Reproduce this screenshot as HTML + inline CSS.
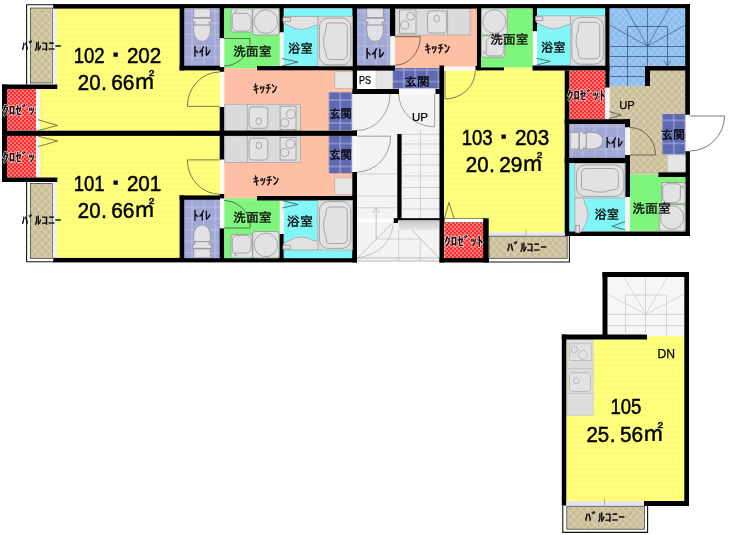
<!DOCTYPE html>
<html lang="ja"><head><meta charset="utf-8"><title>間取り図</title>
<style>
html,body{margin:0;padding:0;background:#fff;}
body{width:733px;height:535px;overflow:hidden;}
svg{display:block;will-change:transform;}
text{font-family:"Liberation Sans","IPAGothic","Noto Sans CJK JP",sans-serif;fill:#000;}
.j{font-family:"Liberation Sans","IPAGothic","Noto Sans CJK JP",sans-serif;}
.l{font-family:"Liberation Sans",sans-serif;}
</style></head><body>
<svg width="733" height="535" viewBox="0 0 733 535">
<defs>
<pattern id="pTan" width="7" height="7.6" patternUnits="userSpaceOnUse">
<rect width="7" height="7.6" fill="#c8bd97"/>
<path d="M0 0L7 7.6M7 0L0 7.6" stroke="#e0d8bc" stroke-width="0.9"/>
</pattern>
<pattern id="pBlue" width="7" height="7.6" patternUnits="userSpaceOnUse">
<rect width="7" height="7.6" fill="#8abcee"/>
<path d="M0 0L7 7.6M7 0L0 7.6" stroke="#aed0f5" stroke-width="0.9"/>
</pattern>
<pattern id="pRed" width="4" height="4" patternUnits="userSpaceOnUse">
<rect width="4" height="4" fill="#f82c2c"/>
<circle cx="1" cy="1" r="0.85" fill="#ffc8c8"/><circle cx="3" cy="3" r="0.85" fill="#ffc8c8"/>
</pattern>
<pattern id="pToi" width="11.5" height="11.5" x="186.4" y="40.2" patternUnits="userSpaceOnUse">
<rect width="11.5" height="11.5" fill="#a2a8d5"/>
<path d="M0 5.75H11.5M5.75 0V11.5" stroke="#bbc0e4" stroke-width="1"/>
</pattern>
<pattern id="pYel" width="8" height="5.5" patternUnits="userSpaceOnUse">
<rect width="8" height="5.5" fill="#ffff7c"/>
<rect y="2.2" width="8" height="1" fill="#f9f978"/>
</pattern>
<pattern id="pGen" width="11.5" height="11.5" patternUnits="userSpaceOnUse">
<rect width="11.5" height="11.5" fill="#5e69b0"/>
<path d="M0 5.75H11.5M5.75 0V11.5" stroke="#a9b0de" stroke-width="1"/>
</pattern>
<linearGradient id="gG" x1="0" y1="0" x2="0" y2="1"><stop offset="0" stop-color="#c4c4c4"/><stop offset="1" stop-color="#e6e6e6"/></linearGradient>
<clipPath id="cL"><rect x="0" y="84" width="36" height="98"/></clipPath>
<pattern id="pGenA" href="#pGen" x="334.5" y="94.3"/>
<pattern id="pGenB" href="#pGen" x="334.5" y="137.7"/>
<pattern id="pGenC" href="#pGen" x="398.1" y="64.3"/>
<pattern id="pGenD" href="#pGen" x="668" y="114.6"/>
</defs>
<rect width="733" height="535" fill="#fff"/>

<rect x="30.3" y="8" width="22.3" height="75" fill="url(#pTan)" stroke="#333" stroke-width="0.7"/>
<rect x="52.8" y="8" width="4" height="76.5" fill="#eeeef5" />
<path d="M54 4.8H26.6V84.5" stroke="#111" stroke-width="1.1" fill="none"/>
<rect x="56.5" y="8" width="123" height="122.5" fill="url(#pYel)" />
<rect x="39.5" y="89" width="17.5" height="41.5" fill="url(#pYel)" />
<rect x="179" y="70.1" width="41.5" height="60.7" fill="url(#pYel)" />
<rect x="7" y="89" width="29" height="41.5" fill="url(#pRed)" />
<rect x="36" y="89" width="3.6" height="41.5" fill="#f4f4fa" />
<rect x="2" y="84.5" width="55.3" height="4.5" fill="#000" />
<rect x="2" y="84.5" width="5" height="46.5" fill="#000" />
<rect x="53.2" y="4.1" width="303.8" height="4.5" fill="#000" />
<rect x="184.3" y="8.3" width="35.7" height="57.6" fill="url(#pToi)" />
<rect x="179.6" y="8" width="4.7" height="62.4" fill="#000" />
<rect x="179.6" y="65.7" width="40.4" height="4.7" fill="#000" />
<rect x="219.7" y="8" width="4.6" height="30.3" fill="#000" />
<rect x="220.2" y="38.3" width="4.1" height="28.8" fill="#fafafa" />
<rect x="220" y="70.4" width="4.5" height="36.6" fill="#fafafa" />
<rect x="219.7" y="67.1" width="4.8" height="4.7" fill="#000" />
<rect x="219.7" y="107" width="4.8" height="24" fill="#000" />
<rect x="224.3" y="8.3" width="55.5" height="57.9" fill="#80f57e" />
<rect x="224.3" y="66" width="32.9" height="2.3" fill="#80f57e" />
<rect x="279.5" y="8" width="4.3" height="24.5" fill="#000" />
<rect x="280" y="32.5" width="3.8" height="33.7" fill="#f2f2f2" />
<rect x="283.8" y="8.3" width="68.6" height="57.9" fill="#82f6f6" />
<rect x="257" y="66" width="100" height="4.6" fill="#000" />
<rect x="352.4" y="8" width="4.8" height="86" fill="#000" />
<rect x="224.3" y="70.6" width="128.1" height="59.9" fill="#fec0a5" />
<rect x="224.3" y="68.3" width="32.9" height="2.7" fill="#fec0a5" />
<rect x="334.8" y="71.8" width="17.6" height="16.8" fill="#e6e6e6" stroke="#b0a8a8" stroke-width="0.6"/>
<rect x="328.6" y="92.3" width="23.8" height="38.2" fill="url(#pGenA)" />
<rect x="352.4" y="94" width="4.6" height="36.5" fill="#f2f2f2" />
<rect x="224.8" y="104.2" width="75.7" height="26.5" fill="#dadada" stroke="#999" stroke-width="0.6"/>
<rect x="30.3" y="183.5" width="22.3" height="75" fill="url(#pTan)" stroke="#333" stroke-width="0.7"/>
<rect x="52.8" y="182" width="4" height="76.5" fill="#eeeef5" />
<path d="M54 261.7H26.6V182" stroke="#111" stroke-width="1.1" fill="none"/>
<rect x="56.5" y="136" width="123" height="122.5" fill="url(#pYel)" />
<rect x="39.5" y="136" width="17.5" height="41.5" fill="url(#pYel)" />
<rect x="179" y="135.7" width="41.5" height="60" fill="url(#pYel)" />
<rect x="7" y="136" width="29" height="41.5" fill="url(#pRed)" />
<rect x="36" y="136" width="3.6" height="41.5" fill="#f4f4fa" />
<rect x="2" y="177.5" width="55.3" height="4.5" fill="#000" />
<rect x="2" y="135.5" width="5" height="46.5" fill="#000" />
<rect x="53.2" y="257.9" width="303.8" height="4.5" fill="#000" />
<rect x="184.3" y="199.6" width="35.7" height="58.6" fill="url(#pToi)" />
<rect x="179.6" y="195.4" width="4.7" height="63.1" fill="#000" />
<rect x="179.6" y="195.4" width="40.4" height="4.4" fill="#000" />
<rect x="219.7" y="228.2" width="4.6" height="30.3" fill="#000" />
<rect x="220.2" y="198.4" width="4.1" height="29.8" fill="#fafafa" />
<rect x="220" y="159.5" width="4.5" height="35.9" fill="#fafafa" />
<rect x="219.7" y="194" width="4.8" height="4.4" fill="#000" />
<rect x="219.7" y="135.5" width="4.8" height="24" fill="#000" />
<rect x="224.3" y="200.3" width="55.5" height="57.9" fill="#80f57e" />
<rect x="224.3" y="198.2" width="32.9" height="2.3" fill="#80f57e" />
<rect x="279.5" y="234" width="4.3" height="24.5" fill="#000" />
<rect x="280" y="200.3" width="3.8" height="33.7" fill="#f2f2f2" />
<rect x="283.8" y="200.3" width="68.6" height="57.9" fill="#82f6f6" />
<rect x="257" y="195.9" width="100" height="4.6" fill="#000" />
<rect x="352.4" y="172.5" width="4.8" height="86" fill="#000" />
<rect x="224.3" y="136" width="128.1" height="59.9" fill="#fec0a5" />
<rect x="224.3" y="195.5" width="32.9" height="2.7" fill="#fec0a5" />
<rect x="334.8" y="177.9" width="17.6" height="16.8" fill="#e6e6e6" stroke="#b0a8a8" stroke-width="0.6"/>
<rect x="328.6" y="136" width="23.8" height="37.3" fill="url(#pGenB)" />
<rect x="352.4" y="136" width="4.6" height="36.5" fill="#f2f2f2" />
<rect x="224.8" y="135.8" width="75.7" height="26.5" fill="#dadada" stroke="#999" stroke-width="0.6"/>
<rect x="2" y="130.7" width="355" height="5.2" fill="#000" />
<rect x="357" y="94" width="83" height="168" fill="#f3f3f3" />
<rect x="357" y="70.3" width="19" height="18.9" fill="#fff" />
<rect x="376" y="70.3" width="16.8" height="18.9" fill="#e6e6e6" stroke="#bbb" stroke-width="0.5"/>
<rect x="392.8" y="68" width="47.2" height="20.6" fill="url(#pGenC)" />
<rect x="352.4" y="89" width="46.6" height="5" fill="#000" />
<rect x="435.3" y="89" width="8.7" height="5" fill="#000" />
<rect x="399" y="88.6" width="36.3" height="5.4" fill="#f8f8f8" />
<rect x="352.4" y="130.5" width="4.6" height="5.4" fill="#000" />
<rect x="352.4" y="172" width="4.6" height="90.5" fill="#000" />
<rect x="352.6" y="135.9" width="4.4" height="36.1" fill="#f6f6f6" />
<rect x="397.3" y="134" width="4.3" height="86.4" fill="#000" />
<rect x="393.5" y="218.2" width="4.5" height="4.8" fill="#000" />
<rect x="401" y="218.2" width="39" height="2.2" fill="#000" />
<rect x="357" y="219" width="36.5" height="3.2" fill="#fff" />
<rect x="399" y="220.4" width="39.6" height="9.4" fill="url(#gG)" />
<line x1="401.6" y1="134.3" x2="440" y2="134.3" stroke="#c2c2c2" stroke-width="0.7"/>
<line x1="401.6" y1="144" x2="440" y2="144" stroke="#c2c2c2" stroke-width="0.7"/>
<line x1="401.6" y1="154.5" x2="440" y2="154.5" stroke="#c2c2c2" stroke-width="0.7"/>
<line x1="401.6" y1="165" x2="440" y2="165" stroke="#c2c2c2" stroke-width="0.7"/>
<line x1="401.6" y1="176" x2="440" y2="176" stroke="#c2c2c2" stroke-width="0.7"/>
<line x1="401.6" y1="187.5" x2="440" y2="187.5" stroke="#c2c2c2" stroke-width="0.7"/>
<line x1="401.6" y1="198.5" x2="440" y2="198.5" stroke="#c2c2c2" stroke-width="0.7"/>
<line x1="401.6" y1="209" x2="440" y2="209" stroke="#c2c2c2" stroke-width="0.7"/>
<line x1="420.5" y1="130" x2="420.5" y2="218" stroke="#c2c2c2" stroke-width="0.7"/>
<line x1="357" y1="174" x2="397.3" y2="174" stroke="#c2c2c2" stroke-width="0.7"/>
<line x1="357" y1="196" x2="397.3" y2="196" stroke="#c2c2c2" stroke-width="0.7"/>
<line x1="357" y1="207.8" x2="397.3" y2="207.8" stroke="#c2c2c2" stroke-width="0.7"/>
<line x1="376.2" y1="207.8" x2="376.2" y2="239" stroke="#aaa" stroke-width="0.7"/>
<path d="M372.8 212.8L376.2 207.8L379.8 212.8" stroke="#aaa" stroke-width="0.7" fill="none"/>
<line x1="376.2" y1="239" x2="420" y2="239" stroke="#c2c2c2" stroke-width="0.7"/>
<line x1="392.5" y1="223" x2="357.5" y2="258" stroke="#aaa" stroke-width="0.7"/>
<path d="M393 225Q390 252 357.5 258" stroke="#aaa" stroke-width="0.7" fill="none"/>
<line x1="398.6" y1="230" x2="398.6" y2="261" stroke="#c2c2c2" stroke-width="0.7"/>
<line x1="412" y1="230" x2="439" y2="258" stroke="#aaa" stroke-width="0.7"/>
<line x1="420.3" y1="239" x2="420.3" y2="261" stroke="#c2c2c2" stroke-width="0.7"/>
<line x1="357" y1="258" x2="440" y2="258" stroke="#aaa" stroke-width="0.7"/>
<line x1="357" y1="261" x2="440" y2="261" stroke="#aaa" stroke-width="0.7"/>
<path d="M390 94A33 36.5 0 0 1 357 130.5" stroke="#666" stroke-width="0.6" fill="none"/>
<path d="M357 136.2H390.6A33.6 35.8 0 0 1 357 172" stroke="#666" stroke-width="0.6" fill="none"/>
<path d="M398.8 94A35.8 32.8 0 0 0 434.6 126.8V94" stroke="#666" stroke-width="0.6" fill="none"/>
<rect x="357" y="8.3" width="33.3" height="57.4" fill="url(#pToi)" />
<rect x="390" y="8" width="5" height="28.3" fill="#000" />
<rect x="390.6" y="36.3" width="4.4" height="29.4" fill="#f4f4f4" />
<rect x="395" y="8.3" width="81.9" height="59.7" fill="#fec0a5" />
<rect x="395.5" y="8.3" width="74.5" height="26.7" fill="#dadada" stroke="#999" stroke-width="0.6"/>
<rect x="352.4" y="65.5" width="42.6" height="5.1" fill="#000" />
<rect x="439.5" y="65.5" width="4.5" height="197" fill="#000" />
<rect x="476.9" y="8" width="4.3" height="62.6" fill="#000" />
<rect x="475.3" y="66" width="28.7" height="4.6" fill="#000" />
<rect x="444.5" y="66.5" width="30.8" height="4.3" fill="#f8f8f8" />
<rect x="357" y="4.1" width="332.9" height="4.5" fill="#000" />
<rect x="444" y="70.6" width="121" height="161.9" fill="url(#pYel)" />
<rect x="504" y="67.5" width="28.5" height="3.5" fill="url(#pYel)" />
<rect x="481" y="8.3" width="51.8" height="59.2" fill="#80f57e" />
<rect x="532.8" y="8" width="4.2" height="23.4" fill="#000" />
<rect x="533.2" y="31.4" width="3.8" height="34.3" fill="#fafafa" />
<rect x="537" y="8.3" width="68.3" height="57.4" fill="#82f6f6" />
<rect x="532.5" y="65.5" width="77.5" height="5.1" fill="#000" />
<rect x="605.2" y="8" width="4.5" height="79.7" fill="#000" />
<rect x="564.7" y="70.6" width="4.8" height="165.4" fill="#000" />
<rect x="569.5" y="70.6" width="35.7" height="48.4" fill="url(#pRed)" />
<rect x="605.2" y="87.7" width="4.5" height="30.3" fill="#f4f4fa" />
<rect x="609.7" y="8.3" width="75.8" height="57.9" fill="url(#pBlue)" />
<rect x="609.7" y="66" width="35.8" height="20" fill="url(#pBlue)" />
<rect x="650" y="70.6" width="35.5" height="19.4" fill="url(#pTan)" />
<rect x="609.7" y="86" width="75.8" height="38.3" fill="url(#pTan)" />
<rect x="630" y="124" width="55.5" height="50.5" fill="url(#pTan)" />
<rect x="645" y="66" width="44.5" height="4.6" fill="#000" />
<rect x="645" y="66" width="5" height="20" fill="#000" />
<rect x="564.7" y="119.2" width="65" height="5" fill="#000" />
<rect x="685.2" y="4.1" width="4.7" height="110.7" fill="#000" />
<rect x="685.2" y="151.2" width="4.7" height="84.3" fill="#000" />
<rect x="569.5" y="124.3" width="55.8" height="33.5" fill="url(#pToi)" />
<rect x="625" y="119" width="5" height="8.5" fill="#000" />
<rect x="625.5" y="127.5" width="4.5" height="27.5" fill="#f4f4f4" />
<rect x="625" y="155" width="5" height="42" fill="#000" />
<rect x="564.7" y="157.8" width="65.3" height="5.2" fill="#000" />
<rect x="662" y="114" width="23.4" height="40.3" fill="url(#pGenD)" />
<rect x="667.5" y="155" width="17.9" height="17" fill="#e4e4e4" stroke="#bbb" stroke-width="0.5"/>
<rect x="569.5" y="163" width="55.8" height="68.2" fill="#82f6f6" />
<rect x="625.5" y="197" width="4.5" height="34.2" fill="#f4f4f4" />
<rect x="630" y="174.5" width="55.4" height="56.7" fill="#80f57e" />
<rect x="564.7" y="231.5" width="125.2" height="4.5" fill="#000" />
<rect x="658.4" y="172.4" width="31.1" height="4.6" fill="#000" />
<rect x="444.3" y="218.5" width="40.2" height="4" fill="#fff" stroke="#333" stroke-width="0.6"/>
<rect x="444.3" y="222.5" width="40.2" height="35.7" fill="url(#pRed)" />
<rect x="483.2" y="218.3" width="5.5" height="44.2" fill="#000" />
<rect x="439.5" y="258" width="49.5" height="4.5" fill="#000" />
<rect x="489" y="232.5" width="76" height="3.5" fill="#e4e4ee" />
<rect x="489" y="236.2" width="78.2" height="22.1" fill="url(#pTan)" stroke="#333" stroke-width="0.7"/>
<path d="M489 262H569.4V235.7" stroke="#111" stroke-width="1.1" fill="none"/>
<line x1="526" y1="229.5" x2="526" y2="235.5" stroke="#888" stroke-width="0.6"/>
<rect x="607.5" y="277" width="77" height="59" fill="#f6f6f6" />
<rect x="566" y="339.5" width="118.5" height="161.7" fill="url(#pYel)" />
<rect x="647" y="336" width="37.5" height="4" fill="url(#pYel)" />
<rect x="566.8" y="339.5" width="26.5" height="76.1" fill="#dcdcdc" stroke="#c4c4c4" stroke-width="0.5"/>
<rect x="602.5" y="272" width="86.5" height="5" fill="#000" />
<rect x="602.5" y="272" width="5" height="63" fill="#000" />
<rect x="684.3" y="272" width="4.7" height="234" fill="#000" />
<rect x="561.8" y="334.5" width="85.2" height="5" fill="#000" />
<rect x="561.8" y="334.5" width="4.5" height="171" fill="#000" />
<rect x="644" y="501" width="45" height="5" fill="#000" />
<rect x="566.3" y="501.2" width="77.7" height="4.3" fill="#e4e4ee" />
<rect x="566.8" y="506.2" width="77.6" height="23" fill="url(#pTan)" stroke="#333" stroke-width="0.7"/>
<path d="M562.8 505.5V532.4H647.6V506" stroke="#111" stroke-width="1.1" fill="none"/>
<line x1="604.5" y1="498.5" x2="604.5" y2="505.5" stroke="#888" stroke-width="0.6"/>
<line x1="607.5" y1="314.5" x2="684.5" y2="314.5" stroke="#cbcbcb" stroke-width="0.8"/>
<line x1="607.5" y1="325.5" x2="684.5" y2="325.5" stroke="#cbcbcb" stroke-width="0.8"/>
<line x1="645.5" y1="277" x2="645.5" y2="335" stroke="#cbcbcb" stroke-width="0.8"/>
<line x1="645.8" y1="314.3" x2="624" y2="277" stroke="#cbcbcb" stroke-width="0.7"/>
<line x1="645.8" y1="314.3" x2="667.5" y2="277" stroke="#cbcbcb" stroke-width="0.7"/>
<line x1="645.8" y1="314.3" x2="607.5" y2="294" stroke="#cbcbcb" stroke-width="0.7"/>
<line x1="645.8" y1="314.3" x2="684.5" y2="294" stroke="#cbcbcb" stroke-width="0.7"/>
<path d="M625.5 335V295H666.5V335" stroke="#cbcbcb" stroke-width="0.8" fill="none"/>
<g transform="translate(202 8.4)" fill="#e2e1e4" stroke="#8c8c8c" stroke-width="0.7"><rect x="-8.3" y="0.4" width="16.6" height="8.8" rx="1"/><path d="M-8.3 16.5V21C-8.3 28.5 -5 33 0 33C5 33 8.3 28.5 8.3 21V16.5Z"/><path d="M-9.3 9.8H9.3V13.5H7.2V16.5H-7.2V13.5H-9.3Z"/></g>
<g transform="translate(202 258.1) scale(1 -1)" fill="#e2e1e4" stroke="#8c8c8c" stroke-width="0.7"><rect x="-8.3" y="0.4" width="16.6" height="8.8" rx="1"/><path d="M-8.3 16.5V21C-8.3 28.5 -5 33 0 33C5 33 8.3 28.5 8.3 21V16.5Z"/><path d="M-9.3 9.8H9.3V13.5H7.2V16.5H-7.2V13.5H-9.3Z"/></g>
<g transform="translate(375 8.4)" fill="#e2e1e4" stroke="#8c8c8c" stroke-width="0.7"><rect x="-8.3" y="0.4" width="16.6" height="8.8" rx="1"/><path d="M-8.3 16.5V21C-8.3 28.5 -5 33 0 33C5 33 8.3 28.5 8.3 21V16.5Z"/><path d="M-9.3 9.8H9.3V13.5H7.2V16.5H-7.2V13.5H-9.3Z"/></g>
<g transform="translate(569.7 140.7) rotate(-90)" fill="#e2e1e4" stroke="#8c8c8c" stroke-width="0.7"><rect x="-8.3" y="0.4" width="16.6" height="8.8" rx="1"/><path d="M-8.3 16.5V21C-8.3 28.5 -5 33 0 33C5 33 8.3 28.5 8.3 21V16.5Z"/><path d="M-9.3 9.8H9.3V13.5H7.2V16.5H-7.2V13.5H-9.3Z"/></g>
<g transform="translate(231 8.6)" fill="#e2e1e4" stroke="#8c8c8c" stroke-width="0.7"><rect x="0" y="0" width="21.4" height="23.5" rx="2.5"/><path d="M3 4.8H14.5Q20.2 5 20.2 12V17Q20.2 22.5 14 22.5H7Q1.3 22.5 1.3 17V9Q1.3 4.8 3 4.8Z"/><path d="M4 4.8V2.2H6.5" fill="none"/></g>
<g transform="translate(252.7 8.6)" fill="#e2e1e4" stroke="#8c8c8c" stroke-width="0.7"><rect x="0" y="0" width="26.4" height="26.4" rx="2.5"/><circle cx="13.2" cy="13" r="11.8"/></g>
<g transform="translate(231 257.9) scale(1 -1)" fill="#e2e1e4" stroke="#8c8c8c" stroke-width="0.7"><rect x="0" y="0" width="21.4" height="23.5" rx="2.5"/><path d="M3 4.8H14.5Q20.2 5 20.2 12V17Q20.2 22.5 14 22.5H7Q1.3 22.5 1.3 17V9Q1.3 4.8 3 4.8Z"/><path d="M4 4.8V2.2H6.5" fill="none"/></g>
<g transform="translate(252.7 257.9) scale(1 -1)" fill="#e2e1e4" stroke="#8c8c8c" stroke-width="0.7"><rect x="0" y="0" width="26.4" height="26.4" rx="2.5"/><circle cx="13.2" cy="13" r="11.8"/></g>
<g transform="translate(481.4 8.6) scale(0.98 1)" fill="#e2e1e4" stroke="#8c8c8c" stroke-width="0.7"><rect x="0" y="0" width="26.4" height="26.4" rx="2.5"/><circle cx="13.2" cy="13" r="11.8"/></g>
<g transform="translate(481.4 57.2) rotate(-90)" fill="#e2e1e4" stroke="#8c8c8c" stroke-width="0.7"><rect x="0" y="0" width="21.4" height="23.5" rx="2.5"/><path d="M3 4.8H14.5Q20.2 5 20.2 12V17Q20.2 22.5 14 22.5H7Q1.3 22.5 1.3 17V9Q1.3 4.8 3 4.8Z"/><path d="M4 4.8V2.2H6.5" fill="none"/></g>
<g transform="translate(685.2 182.4) rotate(90) scale(1 1)" fill="#e2e1e4" stroke="#8c8c8c" stroke-width="0.7"><rect x="0" y="0" width="21.4" height="23.5" rx="2.5"/><path d="M3 4.8H14.5Q20.2 5 20.2 12V17Q20.2 22.5 14 22.5H7Q1.3 22.5 1.3 17V9Q1.3 4.8 3 4.8Z"/><path d="M4 4.8V2.2H6.5" fill="none"/></g>
<g transform="translate(659.2 204.6) scale(0.98 1)" fill="#e2e1e4" stroke="#8c8c8c" stroke-width="0.7"><rect x="0" y="0" width="26.4" height="26.4" rx="2.5"/><circle cx="13.2" cy="13" r="11.8"/></g>
<g transform="translate(317.8 16.5)" fill="#e2e1e4" stroke="#8c8c8c" stroke-width="0.7"><rect x="0" y="0" width="34.6" height="49.5" fill="#dcdcdc" stroke="#aaa"/><rect x="1.6" y="1.6" width="31.4" height="46.8" rx="9" ry="9"/><path d="M10 6.5H24.5Q29.5 6.5 29.5 12V37Q29.5 43 24.5 43H13Q8.5 43 8.2 38Q8 33 6.3 31Q5.2 25 6.3 19Q8 16 8.2 12Q8.5 6.5 10 6.5Z"/></g>
<g transform="translate(317.8 250) scale(1 -1)" fill="#e2e1e4" stroke="#8c8c8c" stroke-width="0.7"><rect x="0" y="0" width="34.6" height="49.5" fill="#dcdcdc" stroke="#aaa"/><rect x="1.6" y="1.6" width="31.4" height="46.8" rx="9" ry="9"/><path d="M10 6.5H24.5Q29.5 6.5 29.5 12V37Q29.5 43 24.5 43H13Q8.5 43 8.2 38Q8 33 6.3 31Q5.2 25 6.3 19Q8 16 8.2 12Q8.5 6.5 10 6.5Z"/></g>
<g transform="translate(570.3 15.8)" fill="#e2e1e4" stroke="#8c8c8c" stroke-width="0.7"><rect x="0" y="0" width="34.6" height="49.5" fill="#dcdcdc" stroke="#aaa"/><rect x="1.6" y="1.6" width="31.4" height="46.8" rx="9" ry="9"/><path d="M10 6.5H24.5Q29.5 6.5 29.5 12V37Q29.5 43 24.5 43H13Q8.5 43 8.2 38Q8 33 6.3 31Q5.2 25 6.3 19Q8 16 8.2 12Q8.5 6.5 10 6.5Z"/></g>
<g transform="translate(574.9 198) rotate(-90) scale(1 1.01)" fill="#e2e1e4" stroke="#8c8c8c" stroke-width="0.7"><rect x="0" y="0" width="34.6" height="49.5" fill="#dcdcdc" stroke="#aaa"/><rect x="1.6" y="1.6" width="31.4" height="46.8" rx="9" ry="9"/><path d="M10 6.5H24.5Q29.5 6.5 29.5 12V37Q29.5 43 24.5 43H13Q8.5 43 8.2 38Q8 33 6.3 31Q5.2 25 6.3 19Q8 16 8.2 12Q8.5 6.5 10 6.5Z"/></g>
<g transform="translate(283.7 16.5)" fill="#e2e1e4" stroke="#8c8c8c" stroke-width="0.7"><path d="M0 0H34.2V8.5Q28 9.5 24 12Q18 14.2 11 12Q5 9 0 6.5Z" stroke="#999"/><rect x="-0.8" y="1" width="7.5" height="3.8"/></g>
<g transform="translate(283.7 250) scale(1 -1)" fill="#e2e1e4" stroke="#8c8c8c" stroke-width="0.7"><path d="M0 0H34.2V8.5Q28 9.5 24 12Q18 14.2 11 12Q5 9 0 6.5Z" stroke="#999"/><rect x="-0.8" y="1" width="7.5" height="3.8"/></g>
<g transform="translate(536.2 15.8)" fill="#e2e1e4" stroke="#8c8c8c" stroke-width="0.7"><path d="M0 0H34.2V8.5Q28 9.5 24 12Q18 14.2 11 12Q5 9 0 6.5Z" stroke="#999"/><rect x="-0.8" y="1" width="7.5" height="3.8"/></g>
<g transform="translate(574.9 232) rotate(-90)" fill="#e2e1e4" stroke="#8c8c8c" stroke-width="0.7"><path d="M0 0H34.2V8.5Q28 9.5 24 12Q18 14.2 11 12Q5 9 0 6.5Z" stroke="#999"/><rect x="-0.8" y="1" width="7.5" height="3.8"/></g>
<g transform="translate(224.8 104.2)" fill="#e2e1e4" stroke="#8c8c8c" stroke-width="0.7"><path d="M22.5 0V26" fill="none" stroke="#999"/><rect x="24.3" y="2.7" width="18.7" height="21.4" rx="3.5"/><ellipse cx="33.9" cy="17" rx="2.8" ry="3.4"/><rect x="55.3" y="2" width="15.9" height="23.5"/><circle cx="66.2" cy="9.9" r="4.5"/><circle cx="59.8" cy="18.6" r="4.2"/></g>
<g transform="translate(224.8 135.9)" fill="#e2e1e4" stroke="#8c8c8c" stroke-width="0.7"><path d="M22.5 0V26" fill="none" stroke="#999"/><rect x="24.3" y="2.3" width="18.7" height="21.8" rx="3.5"/><ellipse cx="34.1" cy="9.6" rx="2.8" ry="3.4"/><rect x="55.3" y="1.7" width="15.9" height="22.4"/><circle cx="65.5" cy="7.8" r="4.5"/><circle cx="59.8" cy="16.7" r="4.2"/></g>
<g transform="translate(395.2 8.8)" fill="#e2e1e4" stroke="#8c8c8c" stroke-width="0.7"><path d="M52.4 0V26" fill="none" stroke="#999"/><rect x="32.3" y="2" width="19.1" height="22.2" rx="3.5"/><ellipse cx="41.5" cy="9.9" rx="2.8" ry="3.4"/><rect x="4.3" y="1.2" width="16.5" height="23.3"/><circle cx="15.3" cy="7.5" r="3.9"/><circle cx="9.5" cy="16.2" r="4.1"/></g>
<g transform="translate(566.8 339.6)" fill="#e2e1e4" stroke="#8c8c8c" stroke-width="0.7"><rect x="3" y="4.2" width="21.4" height="16.8" stroke="#b4b4b4"/><circle cx="7.6" cy="9.8" r="3.3" stroke="#aaa"/><circle cx="16" cy="15.4" r="4.5" stroke="#aaa"/><rect x="2.6" y="33.2" width="21" height="18.7" rx="3" stroke="#aaa"/><circle cx="9.5" cy="41.2" r="3" stroke="#aaa"/><path d="M0 53.7H26.5M0 29H26.5" fill="none" stroke="#bbb"/></g>
<path d="M219.7 106.3H187.4A32.3 34.3 0 0 1 219.7 72" stroke="#333" stroke-width="0.65" fill="none"/>
<path d="M219.7 159.9H187.4A32.3 34.3 0 0 0 219.7 194.2" stroke="#333" stroke-width="0.65" fill="none"/>
<path d="M224 38.5H250V44A27 27 0 0 1 224 66" stroke="#333" stroke-width="0.65" fill="none"/>
<path d="M224 228H250V222.5A27 27 0 0 0 224 200.5" stroke="#333" stroke-width="0.65" fill="none"/>
<path d="M395 36.7H420.3A25.3 28.5 0 0 1 395 65.2" stroke="#333" stroke-width="0.65" fill="none"/>
<path d="M445 99V70.8M475.3 70.8A30.3 28.5 0 0 1 445 99" stroke="#333" stroke-width="0.65" fill="none"/>
<path d="M630 155H655.5A25.5 27.5 0 0 0 630 127.5" stroke="#333" stroke-width="0.65" fill="none"/>
<path d="M689.7 116H724.5A35 35 0 0 1 689.7 151" stroke="#333" stroke-width="0.65" fill="#fff"/>
<path d="M38 119.7L57.5 125.4L38 130.7" stroke="#333" stroke-width="0.65" fill="none"/>
<path d="M38 136.2L57.5 141L38 146.6" stroke="#333" stroke-width="0.65" fill="none"/>
<path d="M282 58.5L298 62L282 66" stroke="#333" stroke-width="0.65" fill="none"/>
<path d="M282 208L298 204.5L282 200.5" stroke="#333" stroke-width="0.65" fill="none"/>
<path d="M536.5 58.4L550.4 61.3L536.5 65.1" stroke="#333" stroke-width="0.65" fill="none"/>
<path d="M625 221.6L612 226.4L625 229.8" stroke="#333" stroke-width="0.65" fill="none"/>
<path d="M444.5 218L449 202.5L454 218" stroke="#333" stroke-width="0.65" fill="none"/>
<path d="M609.4 111.5L621.2 115.2L608.5 118.7" stroke="#333" stroke-width="0.65" fill="none"/>
<line x1="647.5" y1="46" x2="626" y2="8.5" stroke="#2c4a6e" stroke-width="0.6"/>
<line x1="647.5" y1="46" x2="647.5" y2="8.5" stroke="#2c4a6e" stroke-width="0.6"/>
<line x1="647.5" y1="46" x2="669" y2="8.5" stroke="#2c4a6e" stroke-width="0.6"/>
<line x1="647.5" y1="46" x2="609.7" y2="25" stroke="#2c4a6e" stroke-width="0.6"/>
<line x1="647.5" y1="46" x2="685.5" y2="25" stroke="#2c4a6e" stroke-width="0.6"/>
<line x1="609.7" y1="46.5" x2="685.5" y2="46.5" stroke="#2c4a6e" stroke-width="0.7"/>
<line x1="609.7" y1="56.5" x2="685.5" y2="56.5" stroke="#2c4a6e" stroke-width="0.7"/>
<line x1="609.7" y1="66.5" x2="645" y2="66.5" stroke="#2c4a6e" stroke-width="0.7"/>
<line x1="609.7" y1="76.5" x2="645" y2="76.5" stroke="#2c4a6e" stroke-width="0.7"/>
<path d="M627.5 86V26.5H667.5V66" stroke="#2c4a6e" stroke-width="0.7" fill="none"/>
<line x1="647.5" y1="46" x2="647.5" y2="66" stroke="#2c4a6e" stroke-width="0.7"/>
<path d="M664 60L667.5 66L671 60" stroke="#2c4a6e" stroke-width="0.6" fill="none"/>
<text y="63.2" font-size="21.4" class="j" stroke="#000" stroke-width="0.5"><tspan x="73.7" textLength="31" lengthAdjust="spacingAndGlyphs">102</tspan><tspan x="105.1" stroke-width="1.5">・</tspan><tspan x="126.9" textLength="34.4" lengthAdjust="spacingAndGlyphs">202</tspan></text>
<text y="90" font-size="21.4" class="j" stroke="#000" stroke-width="0.5"><tspan x="77.8" textLength="22.7" lengthAdjust="spacingAndGlyphs">20</tspan><tspan x="101">.</tspan><tspan x="105.4" textLength="29" lengthAdjust="spacingAndGlyphs"> 66</tspan><tspan x="132.2" font-size="23.968" stroke-width="0.3" textLength="25.4" lengthAdjust="spacingAndGlyphs">㎡</tspan></text>
<text y="191" font-size="21.4" class="j" stroke="#000" stroke-width="0.5"><tspan x="73.7" textLength="31" lengthAdjust="spacingAndGlyphs">101</tspan><tspan x="105.1" stroke-width="1.5">・</tspan><tspan x="126.9" textLength="34.4" lengthAdjust="spacingAndGlyphs">201</tspan></text>
<text y="217.6" font-size="21.4" class="j" stroke="#000" stroke-width="0.5"><tspan x="77.8" textLength="22.7" lengthAdjust="spacingAndGlyphs">20</tspan><tspan x="101">.</tspan><tspan x="105.4" textLength="29" lengthAdjust="spacingAndGlyphs"> 66</tspan><tspan x="132.2" font-size="23.968" stroke-width="0.3" textLength="25.4" lengthAdjust="spacingAndGlyphs">㎡</tspan></text>
<text y="144.9" font-size="21.4" class="j" stroke="#000" stroke-width="0.5"><tspan x="461.7" textLength="31" lengthAdjust="spacingAndGlyphs">103</tspan><tspan x="493.1" stroke-width="1.5">・</tspan><tspan x="514.9" textLength="34.4" lengthAdjust="spacingAndGlyphs">203</tspan></text>
<text y="171.7" font-size="21.4" class="j" stroke="#000" stroke-width="0.5"><tspan x="465.8" textLength="22.7" lengthAdjust="spacingAndGlyphs">20</tspan><tspan x="489">.</tspan><tspan x="493.4" textLength="29" lengthAdjust="spacingAndGlyphs"> 29</tspan><tspan x="520.2" font-size="23.968" stroke-width="0.3" textLength="25.4" lengthAdjust="spacingAndGlyphs">㎡</tspan></text>
<text x="610.4" y="414.4" font-size="21.4" class="j" text-anchor="start" textLength="31" lengthAdjust="spacingAndGlyphs" stroke="#000" stroke-width="0.5">105</text>
<text y="441.6" font-size="21.4" class="j" stroke="#000" stroke-width="0.5"><tspan x="586.5" textLength="22.7" lengthAdjust="spacingAndGlyphs">25</tspan><tspan x="609.7">.</tspan><tspan x="614.1" textLength="29" lengthAdjust="spacingAndGlyphs"> 56</tspan><tspan x="640.9" font-size="23.968" stroke-width="0.3" textLength="25.4" lengthAdjust="spacingAndGlyphs">㎡</tspan></text>
<text x="21.6" y="51" font-size="13" class="j" text-anchor="start" textLength="39.8" lengthAdjust="spacingAndGlyphs" stroke="#000" stroke-width="0.35">ﾊﾞﾙｺﾆｰ</text>
<text x="21.6" y="225" font-size="13" class="j" text-anchor="start" textLength="39.8" lengthAdjust="spacingAndGlyphs" stroke="#000" stroke-width="0.35">ﾊﾞﾙｺﾆｰ</text>
<text x="506.8" y="252" font-size="13" class="j" text-anchor="start" textLength="40" lengthAdjust="spacingAndGlyphs" stroke="#000" stroke-width="0.35">ﾊﾞﾙｺﾆｰ</text>
<text x="584.4" y="522.3" font-size="13" class="j" text-anchor="start" textLength="40.6" lengthAdjust="spacingAndGlyphs" stroke="#000" stroke-width="0.35">ﾊﾞﾙｺﾆｰ</text>
<text x="2.3" y="115" font-size="13" class="j" text-anchor="start" textLength="39" lengthAdjust="spacingAndGlyphs" stroke="#fff" stroke-opacity="0.7" stroke-width="1.8" fill="#fff" fill-opacity="0.5" clip-path="url(#cL)">ｸﾛｾﾞｯﾄ</text>
<text x="2.3" y="115" font-size="13" class="j" text-anchor="start" textLength="39" lengthAdjust="spacingAndGlyphs" stroke="#000" stroke-width="0.35" clip-path="url(#cL)">ｸﾛｾﾞｯﾄ</text>
<text x="2.3" y="161.5" font-size="13" class="j" text-anchor="start" textLength="39" lengthAdjust="spacingAndGlyphs" stroke="#fff" stroke-opacity="0.7" stroke-width="1.8" fill="#fff" fill-opacity="0.5" clip-path="url(#cL)">ｸﾛｾﾞｯﾄ</text>
<text x="2.3" y="161.5" font-size="13" class="j" text-anchor="start" textLength="39" lengthAdjust="spacingAndGlyphs" stroke="#000" stroke-width="0.35" clip-path="url(#cL)">ｸﾛｾﾞｯﾄ</text>
<text x="444.2" y="246.3" font-size="13" class="j" text-anchor="start" textLength="39" lengthAdjust="spacingAndGlyphs" stroke="#fff" stroke-opacity="0.7" stroke-width="1.8" fill="#fff" fill-opacity="0.5">ｸﾛｾﾞｯﾄ</text>
<text x="444.2" y="246.3" font-size="13" class="j" text-anchor="start" textLength="39" lengthAdjust="spacingAndGlyphs" stroke="#000" stroke-width="0.35">ｸﾛｾﾞｯﾄ</text>
<text x="567" y="100.4" font-size="13" class="j" text-anchor="start" textLength="38.3" lengthAdjust="spacingAndGlyphs" stroke="#fff" stroke-opacity="0.7" stroke-width="1.8" fill="#fff" fill-opacity="0.5">ｸﾛｾﾞｯﾄ</text>
<text x="567" y="100.4" font-size="13" class="j" text-anchor="start" textLength="38.3" lengthAdjust="spacingAndGlyphs" stroke="#000" stroke-width="0.35">ｸﾛｾﾞｯﾄ</text>
<text x="192.6" y="56.3" font-size="12.5" class="j" text-anchor="start" textLength="18.4" lengthAdjust="spacingAndGlyphs" stroke="#000" stroke-width="0.35">ﾄｲﾚ</text>
<text x="192.6" y="220" font-size="12.5" class="j" text-anchor="start" textLength="18.4" lengthAdjust="spacingAndGlyphs" stroke="#000" stroke-width="0.35">ﾄｲﾚ</text>
<text x="364.5" y="58" font-size="12.5" class="j" text-anchor="start" textLength="20.1" lengthAdjust="spacingAndGlyphs" stroke="#000" stroke-width="0.35">ﾄｲﾚ</text>
<text x="604.7" y="146.5" font-size="12.5" class="j" text-anchor="start" textLength="18.5" lengthAdjust="spacingAndGlyphs" stroke="#000" stroke-width="0.35">ﾄｲﾚ</text>
<text x="252.9" y="92.6" font-size="12" class="j" text-anchor="start" textLength="24.5" lengthAdjust="spacingAndGlyphs" stroke="#000" stroke-width="0.35">ｷｯﾁﾝ</text>
<text x="253" y="185" font-size="12" class="j" text-anchor="start" textLength="26" lengthAdjust="spacingAndGlyphs" stroke="#000" stroke-width="0.35">ｷｯﾁﾝ</text>
<text x="424.8" y="53.1" font-size="12" class="j" text-anchor="start" textLength="25.2" lengthAdjust="spacingAndGlyphs" stroke="#000" stroke-width="0.35">ｷｯﾁﾝ</text>
<text x="232.9" y="56.3" font-size="13" class="j" text-anchor="start" textLength="38.7" lengthAdjust="spacingAndGlyphs" stroke="#000" stroke-width="0.3">洗面室</text>
<text x="233" y="221.6" font-size="13" class="j" text-anchor="start" textLength="38.8" lengthAdjust="spacingAndGlyphs" stroke="#000" stroke-width="0.3">洗面室</text>
<text x="490.3" y="44.4" font-size="13" class="j" text-anchor="start" textLength="38.2" lengthAdjust="spacingAndGlyphs" stroke="#000" stroke-width="0.3">洗面室</text>
<text x="632.2" y="212.6" font-size="13" class="j" text-anchor="start" textLength="38.6" lengthAdjust="spacingAndGlyphs" stroke="#000" stroke-width="0.3">洗面室</text>
<text x="288" y="52.6" font-size="13" class="j" text-anchor="start" textLength="24.8" lengthAdjust="spacingAndGlyphs" stroke="#000" stroke-width="0.3">浴室</text>
<text x="286.8" y="226.2" font-size="13" class="j" text-anchor="start" textLength="26.2" lengthAdjust="spacingAndGlyphs" stroke="#000" stroke-width="0.3">浴室</text>
<text x="540.9" y="52.2" font-size="13" class="j" text-anchor="start" textLength="24.8" lengthAdjust="spacingAndGlyphs" stroke="#000" stroke-width="0.3">浴室</text>
<text x="594.4" y="218.6" font-size="13" class="j" text-anchor="start" textLength="24.8" lengthAdjust="spacingAndGlyphs" stroke="#000" stroke-width="0.3">浴室</text>
<text x="329.2" y="117.8" font-size="12" class="j" text-anchor="start" textLength="22.5" lengthAdjust="spacingAndGlyphs" stroke="#000" stroke-width="0.3">玄関</text>
<text x="329.2" y="159.4" font-size="12" class="j" text-anchor="start" textLength="22.5" lengthAdjust="spacingAndGlyphs" stroke="#000" stroke-width="0.3">玄関</text>
<text x="404.5" y="85.6" font-size="12" class="j" text-anchor="start" textLength="25" lengthAdjust="spacingAndGlyphs" stroke="#000" stroke-width="0.3">玄関</text>
<text x="661" y="139.4" font-size="12" class="j" text-anchor="start" textLength="24" lengthAdjust="spacingAndGlyphs" stroke="#000" stroke-width="0.3">玄関</text>
<text x="359" y="83.7" font-size="11.5" class="l" text-anchor="start" textLength="12" lengthAdjust="spacingAndGlyphs" stroke="#000" stroke-width="0.25">PS</text>
<text x="412" y="120.5" font-size="11.8" class="l" text-anchor="start" textLength="16" lengthAdjust="spacingAndGlyphs" stroke="#000" stroke-width="0.25">UP</text>
<text x="619.3" y="108.6" font-size="11.8" class="l" text-anchor="start" textLength="15.5" lengthAdjust="spacingAndGlyphs" stroke="#000" stroke-width="0.25">UP</text>
<text x="657.5" y="358" font-size="12.2" class="l" text-anchor="start" textLength="17.5" lengthAdjust="spacingAndGlyphs" stroke="#000" stroke-width="0.25">DN</text>
</svg></body></html>
